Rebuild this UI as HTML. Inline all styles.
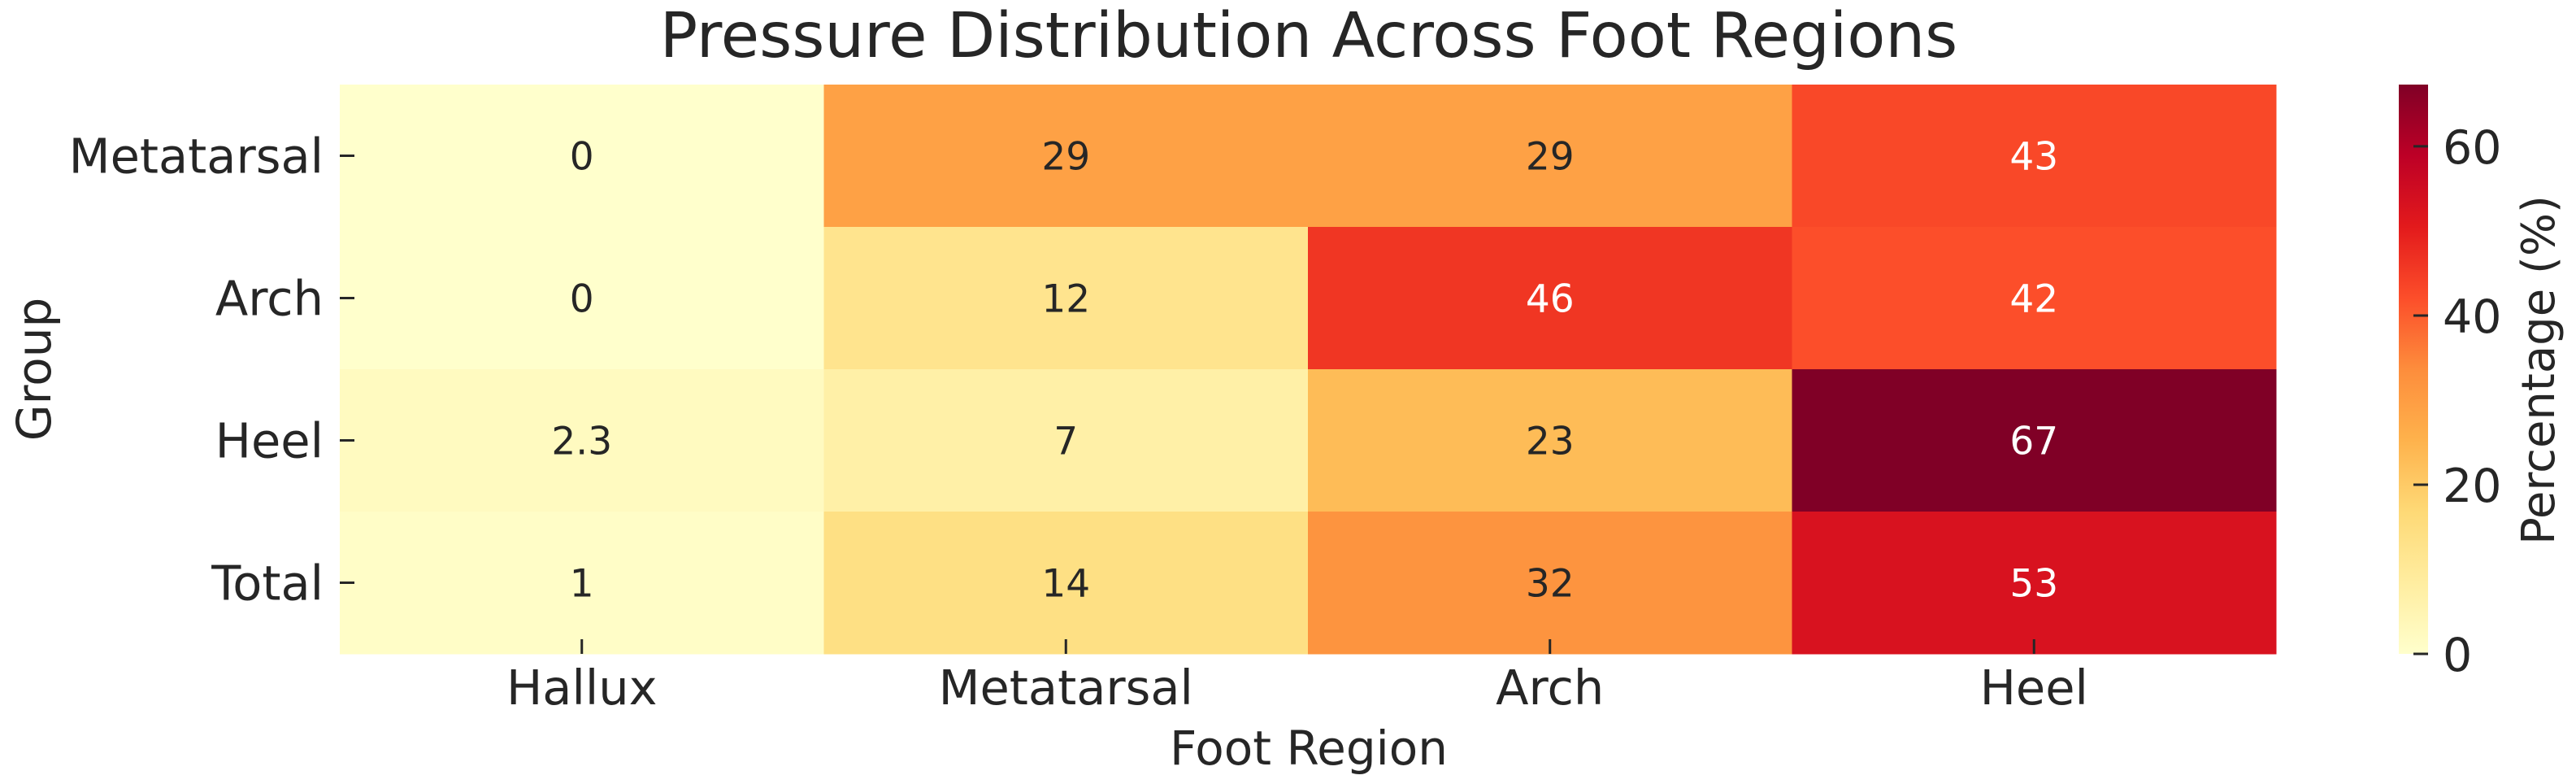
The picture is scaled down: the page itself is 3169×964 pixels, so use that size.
<!DOCTYPE html>
<html><head><meta charset="utf-8"><style>
html,body{margin:0;padding:0;background:#fff;}
svg{display:block;font-family:"DejaVu Sans","Liberation Sans",sans-serif;}
</style></head><body>
<svg id="chart" width="3169" height="964" viewBox="0 0 3169 964" xmlns="http://www.w3.org/2000/svg">
<defs>
<linearGradient id="cbgrad" x1="0" y1="1" x2="0" y2="0">
<stop offset="0" stop-color="#ffffcc"/><stop offset="0.125" stop-color="#ffeda0"/><stop offset="0.25" stop-color="#fed976"/><stop offset="0.375" stop-color="#feb24c"/><stop offset="0.5" stop-color="#fd8d3c"/><stop offset="0.625" stop-color="#fc4e2a"/><stop offset="0.75" stop-color="#e31a1c"/><stop offset="0.875" stop-color="#bd0026"/><stop offset="1" stop-color="#800026"/>
</linearGradient>
</defs>
<text x="1610" y="70" font-size="77" fill="#262626" text-anchor="middle">Pressure Distribution Across Foot Regions</text>
<g id="cells"></g>
<g id="axes"></g>
<rect x="2951" y="104" width="36" height="700" fill="url(#cbgrad)"/>
<g id="cbticks"></g>
<text transform="translate(3142,455) rotate(-90)" font-size="56" fill="#262626" text-anchor="middle">Percentage (%)</text>
<text x="1610" y="940" font-size="58" fill="#262626" text-anchor="middle">Foot Region</text>
<text transform="translate(62,454) rotate(-90)" font-size="58" fill="#262626" text-anchor="middle">Group</text>
</svg>
<script>
const columns = ["Hallux","Metatarsal","Arch","Heel"];
const rows = ["Metatarsal","Arch","Heel","Total"];
const values = [
  [0, 29, 29, 43],
  [0, 12, 46, 42],
  [2.3, 7, 23, 67.3],
  [1, 14, 32, 53]
];
const labels = [
  ["0","29","29","43"],
  ["0","12","46","42"],
  ["2.3","7","23","67"],
  ["1","14","32","53"]
];
const cbTicks = [0, 20, 40, 60];
const vmin = 0, vmax = 67.3;

const NS = "http://www.w3.org/2000/svg";
const L = 418, R = 2800, T = 104, B = 804;
const cw = (R - L) / columns.length, rh = (B - T) / rows.length;
const xPos = i => L + i * cw;
const yPos = j => T + j * rh;
const cbY = v => 804 - (v - vmin) / (vmax - vmin) * 700;
const stops = ["#ffffcc","#ffeda0","#fed976","#feb24c","#fd8d3c","#fc4e2a","#e31a1c","#bd0026","#800026"];
function hex(c){return [1,3,5].map(i=>parseInt(c.substr(i,2),16));}
function color(v){
  let t = Math.max(0, Math.min(1, (v - vmin) / (vmax - vmin))) * 8;
  let i = Math.min(7, Math.floor(t)), f = t - i;
  const a = hex(stops[i]), b = hex(stops[i+1]);
  const c = a.map((x,k)=>Math.round(x + (b[k]-x)*f));
  return {css:`rgb(${c[0]},${c[1]},${c[2]})`, lum:(0.299*c[0]+0.587*c[1]+0.114*c[2])};
}
function mk(tag, attrs, parent){const e=document.createElementNS(NS,tag);for(const k in attrs)e.setAttribute(k,attrs[k]);parent.appendChild(e);return e;}
const cells = document.getElementById("cells");
const axes = document.getElementById("axes");
rows.forEach((r, j) => {
  columns.forEach((c, i) => {
    const col = color(values[j][i]);
    const rect = mk("rect", {x:xPos(i), y:yPos(j), width:cw+0.5, height:rh+0.5, fill:col.css}, cells);
    
    
    const t = mk("text", {x:xPos(i)+cw/2, y:yPos(j)+rh/2+17, "font-size":47, "text-anchor":"middle", fill: col.lum < 140 ? "#ffffff" : "#262626"}, cells);
    t.textContent = labels[j][i];
    
    
  });
});
rows.forEach((r, j) => {
  const y = yPos(j) + rh/2;
  const tk = mk("line", {x1:L, x2:L+18, y1:y, y2:y, stroke:"#262626", "stroke-width":3}, axes);
  
  
  const t = mk("text", {x:398, y:y+21, "font-size":59, "text-anchor":"end", fill:"#262626"}, axes);
  t.textContent = r;
  
  
});
columns.forEach((c, i) => {
  const x = xPos(i) + cw/2;
  const tk = mk("line", {x1:x, x2:x, y1:B, y2:B-18, stroke:"#262626", "stroke-width":3}, axes);
  
  
  const t = mk("text", {x:x, y:866, "font-size":59, "text-anchor":"middle", fill:"#262626"}, axes);
  t.textContent = c;
  
  
});
const cbt = document.getElementById("cbticks");
cbTicks.forEach(v => {
  const y = cbY(v);
  const tk = mk("line", {x1:2969, x2:2987, y1:y, y2:y, stroke:"#262626", "stroke-width":3}, cbt);
  
  
  const t = mk("text", {x:3005, y:y+21, "font-size":57, fill:"#262626"}, cbt);
  t.textContent = v;
  
  
});
</script>
</body></html>
